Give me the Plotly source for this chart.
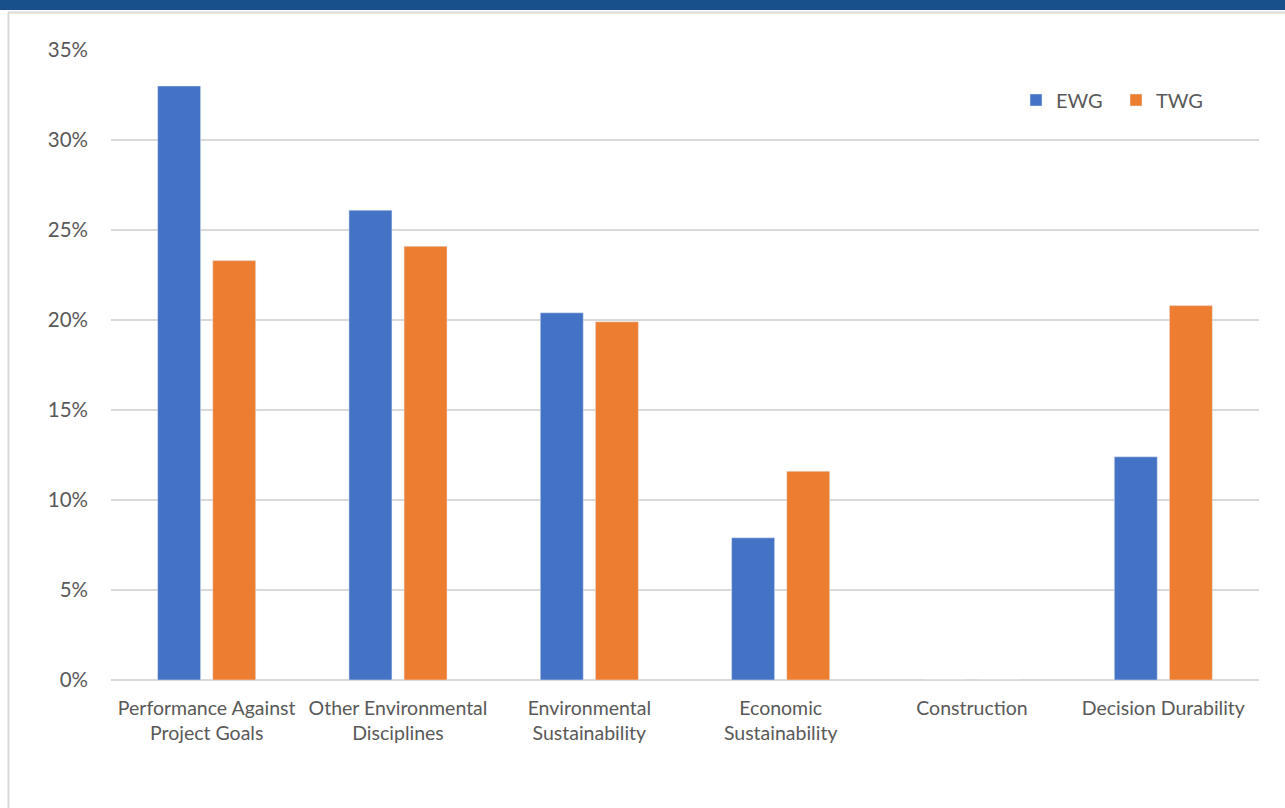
import plotly.graph_objects as go

categories = ["Performance Against<br>Project Goals", "Other Environmental<br>Disciplines",
              "Environmental<br>Sustainability", "Economic<br>Sustainability",
              "Construction", "Decision Durability"]
ewg = [0.330, 0.261, 0.204, 0.079, 0.0, 0.124]
twg = [0.233, 0.241, 0.199, 0.116, 0.0, 0.208]
y_ticks = [0, 0.05, 0.10, 0.15, 0.20, 0.25, 0.30, 0.35]

W, H = 1285, 808
L, R, T, B = 111, 26, 50, 128
pw, ph = W - L - R, H - T - B

def px(x):
    return (x - L) / pw

def py(y):
    return (H - B - y) / ph

fig = go.Figure()
fig.add_trace(go.Bar(name="EWG", x=categories, y=ewg, marker_color="#4472C4"))
fig.add_trace(go.Bar(name="TWG", x=categories, y=twg, marker_color="#ED7D31"))

font_fam = "Lato, 'Open Sans', sans-serif"
fig.update_layout(
    width=W, height=H,
    margin=dict(l=L, r=R, t=T, b=B, autoexpand=False),
    paper_bgcolor="white", plot_bgcolor="white",
    barmode="group", bargap=0.424, bargroupgap=0.22,
    font=dict(family=font_fam, size=19.5, color="#595959"),
    showlegend=True,
    legend=dict(orientation="h", x=px(1016), xanchor="left", y=py(100), yanchor="middle",
                font=dict(size=20, color="#595959"), bgcolor="rgba(0,0,0,0)",
                entrywidth=55, entrywidthmode="pixels", traceorder="normal"),
    xaxis=dict(showgrid=False, showline=False, ticks="", ticklabelstandoff=14,
               tickfont=dict(size=19.5, color="#595959")),
    yaxis=dict(range=[0, 0.35], tickvals=y_ticks, tickformat=".0%",
               showgrid=True, gridcolor="#d9d9d9", gridwidth=1.5,
               zeroline=True, zerolinecolor="#d9d9d9", zerolinewidth=1.5,
               showline=False, ticks="", ticklabelstandoff=22,
               tickfont=dict(size=20.5, color="#595959")),
    shapes=[
        dict(type="rect", xref="paper", yref="paper", x0=px(0), x1=px(W), y0=py(10), y1=py(0),
             fillcolor="#17508a", line=dict(width=0), layer="above"),
        dict(type="line", xref="paper", yref="paper", x0=px(8), x1=px(W), y0=py(12.5), y1=py(12.5),
             line=dict(color="#d9d9d9", width=2)),
        dict(type="line", xref="paper", yref="paper", x0=px(8.5), x1=px(8.5), y0=py(H), y1=py(12),
             line=dict(color="#d9d9d9", width=2)),
    ],
)

fig.write_html("out.html")
